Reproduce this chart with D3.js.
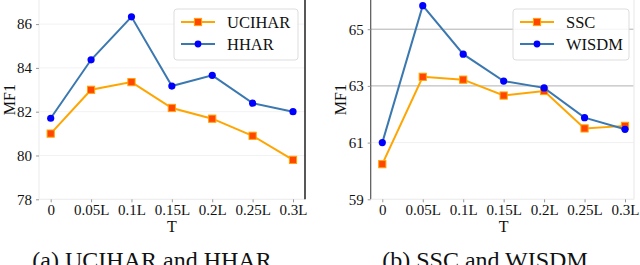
<!DOCTYPE html>
<html><head><meta charset="utf-8">
<script src="https://cdn.jsdelivr.net/npm/d3@7"></script>
<style>body{margin:0;background:#fff;} svg{display:block;} text{font-family:"Liberation Serif","Times New Roman",serif;}</style>
</head><body><svg id="c" width="640" height="265"></svg>
<script>
const categories = ["0","0.05L","0.1L","0.15L","0.2L","0.25L","0.3L"];
const ucihar = [81.0, 83.0, 83.35, 82.17, 81.68, 80.9, 79.8];
const hhar   = [81.7, 84.37, 86.33, 83.17, 83.66, 82.39, 82.0];
const ssc    = [60.24, 63.32, 63.22, 62.66, 62.82, 61.5, 61.59];
const wisdm  = [61.0, 65.83, 64.12, 63.17, 62.93, 61.88, 61.47];
const ticksA = [78, 80, 82, 84, 86];
const ticksB = [59, 61, 63, 65];

const svg = d3.select("#c");
const SERIF = "Liberation Serif, Times New Roman, serif";

function panel(o){
  const g = svg.append("g");
  const x = d3.scalePoint().domain(categories).range([o.x0, o.x1]);
  const y = d3.scaleLinear().domain(o.yd).range([o.yb, o.yt]);
  // grid
  g.selectAll("line.grid").data(o.ticks).join("line")
    .attr("x1", o.left).attr("x2", o.right)
    .attr("y1", d=>y(d)).attr("y2", d=>y(d))
    .attr("stroke", d=>o.gridColor(d)).attr("stroke-width", 1);
  // spines
  g.append("line").attr("x1", o.left).attr("x2", o.left).attr("y1", o.top).attr("y2", o.yb)
    .attr("stroke", o.leftSpine).attr("stroke-width", 1.2);
  g.append("line").attr("x1", o.left).attr("x2", o.right).attr("y1", o.yb).attr("y2", o.yb)
    .attr("stroke", "#eeeeee").attr("stroke-width", 1);
  g.append("line").attr("x1", o.right).attr("x2", o.right).attr("y1", o.top).attr("y2", o.yb)
    .attr("stroke", o.rightSpine).attr("stroke-width", 1.4);
  // axes
  const ya = g.append("g").attr("transform", `translate(${o.left},0)`)
    .call(d3.axisLeft(y).tickValues(o.ticks).tickFormat(d3.format("d")).tickSize(3).tickPadding(4));
  const xa = g.append("g").attr("transform", `translate(0,${o.yb})`)
    .call(d3.axisBottom(x).tickSize(3).tickPadding(2));
  [ya, xa].forEach(a=>{
    a.attr("font-family", SERIF).attr("font-size", 15);
    a.select(".domain").remove();
    a.selectAll(".tick line").attr("stroke", "#999");
    a.selectAll("text").attr("fill", "#111").attr("font-family", SERIF).attr("font-size", 15);
  });
  // labels
  g.append("text").attr("transform", `translate(${o.left-30},${(o.top+o.yb)/2}) rotate(-90)`)
    .attr("text-anchor", "middle").attr("dy", "0.35em").attr("font-size", 16).attr("fill","#111").text("MF1");
  g.append("text").attr("x", (o.x0+o.x1)/2).attr("y", 232)
    .attr("text-anchor", "middle").attr("font-size", 16).attr("fill","#111").text("T");
  // lines
  const line = d3.line().x((d,i)=>x(categories[i])).y(d=>y(d));
  const drawSeries = (vals, color, marker, mcolor, ecolor) => {
    g.append("path").datum(vals).attr("d", line).attr("fill", "none")
      .attr("stroke", color).attr("stroke-width", 2);
    if (marker === "square") {
      g.selectAll(null).data(vals).join("rect")
        .attr("x", (d,i)=>x(categories[i])-3.6).attr("y", d=>y(d)-3.6)
        .attr("width", 7.2).attr("height", 7.2)
        .attr("fill", mcolor).attr("stroke", ecolor).attr("stroke-width", 1);
    } else {
      g.selectAll(null).data(vals).join("circle")
        .attr("cx", (d,i)=>x(categories[i])).attr("cy", d=>y(d)).attr("r", 3.6)
        .attr("fill", mcolor);
    }
  };
  drawSeries(o.s1, "#ffa500", "square", "#ff4500", "#ffa500");
  drawSeries(o.s2, "#3b78b0", "circle", "#0000ff");
  // legend
  const L = o.legend;
  g.append("rect").attr("x", L.x).attr("y", L.y).attr("width", L.w).attr("height", L.h)
    .attr("rx", 3).attr("fill", "#fff").attr("fill-opacity", 0.85).attr("stroke", "#dddddd");
  const items = [[o.names[0], "#ffa500", "square", "#ff4500"], [o.names[1], "#3b78b0", "circle", "#0000ff"]];
  items.forEach((it, k) => {
    const yy = L.y + 13 + k*22;
    const hx0 = L.x + 7, hx1 = L.x + 41, hm = (hx0+hx1)/2;
    g.append("line").attr("x1", hx0).attr("x2", hx1).attr("y1", yy).attr("y2", yy)
      .attr("stroke", it[1]).attr("stroke-width", 2);
    if (it[2] === "square") {
      g.append("rect").attr("x", hm-3.6).attr("y", yy-3.6).attr("width", 7.2).attr("height", 7.2)
        .attr("fill", it[3]).attr("stroke", it[1]).attr("stroke-width", 1);
    } else {
      g.append("circle").attr("cx", hm).attr("cy", yy).attr("r", 3.4).attr("fill", it[3]);
    }
    g.append("text").attr("x", L.x + 53).attr("y", yy).attr("dy", "0.35em")
      .attr("font-size", 16.5).attr("fill", "#111").text(it[0]);
  });
  // caption (cut off at the bottom edge, as in the reference)
  g.append("text").attr("x", o.capX).attr("y", 268).attr("text-anchor", "middle")
    .attr("font-size", 24).attr("fill", "#111").text(o.caption);
}

panel({
  x0: 50.7, x1: 293, left: 39, right: 305, top: 0, yb: 199.3, yt: 0,
  yd: [78, 87.1], ticks: ticksA, s1: ucihar, s2: hhar,
  names: ["UCIHAR", "HHAR"], gridColor: d => "#f2f2f2",
  leftSpine: "#eeeeee", rightSpine: "#111",
  legend: {x: 174, y: 9, w: 124, h: 51},
  caption: "(a) UCIHAR and HHAR", capX: 152
});
panel({
  x0: 382.3, x1: 625, left: 370.7, right: 634, top: 0, yb: 199.3, yt: 0,
  yd: [59, 66.03], ticks: ticksB, s1: ssc, s2: wisdm,
  names: ["SSC", "WISDM"], gridColor: d => (d === 65 || d === 63) ? "#b0b0b0" : "#f0f0f0",
  leftSpine: "#555", rightSpine: "#eeeeee",
  legend: {x: 513, y: 9, w: 116, h: 51},
  caption: "(b) SSC and WISDM", capX: 485
});
</script></body></html>
